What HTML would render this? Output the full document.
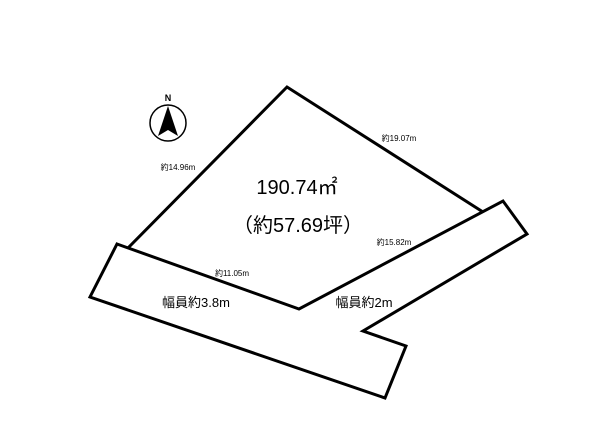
<!DOCTYPE html>
<html><head><meta charset="utf-8"><style>
body{margin:0;background:#fff}
svg{display:block}
text{font-family:"Liberation Sans","Noto Sans CJK JP",sans-serif;fill:#000}
</style></head><body>
<svg width="600" height="425" viewBox="0 0 600 425">
<g fill="none" stroke="#000" stroke-width="3" stroke-linejoin="miter">
<polyline points="128,248 287,87 483,212"/>
<polygon points="117,244 299,309 503,201 527,234 363,331 406,346 385,398 90,297"/>
</g>
<circle cx="168" cy="123" r="18" fill="none" stroke="#000" stroke-width="1.5"/>
<polygon points="168,106 158,136 168,130 178,136" fill="#000"/>
<text x="168" y="101" font-size="9" font-weight="bold" text-anchor="middle">N</text>
<text x="178" y="170" font-size="8" text-anchor="middle">約14.96m</text>
<text x="399" y="141" font-size="8" text-anchor="middle">約19.07m</text>
<text x="394" y="245" font-size="8" text-anchor="middle">約15.82m</text>
<text x="232" y="276" font-size="8" text-anchor="middle">約11.05m</text>
<text x="297" y="194" font-size="20" text-anchor="middle">190.74㎡</text>
<text x="298" y="232" font-size="20" text-anchor="middle">（約57.69坪）</text>
<text x="196" y="307" font-size="13" text-anchor="middle">幅員約3.8m</text>
<text x="364" y="307" font-size="13" text-anchor="middle">幅員約2m</text>
</svg>
</body></html>
